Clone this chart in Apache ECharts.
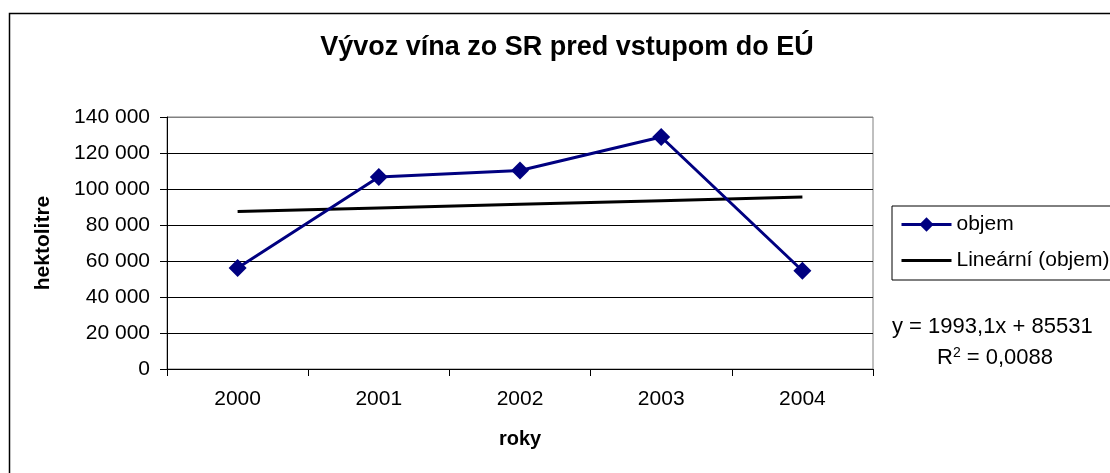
<!DOCTYPE html>
<html>
<head>
<meta charset="utf-8">
<script src="https://cdn.jsdelivr.net/npm/echarts@6/dist/echarts.min.js"></script>
<style>
  html, body { margin: 0; padding: 0; background: #fff; }
  #chart { width: 1110px; height: 473px; }
</style>
</head>
<body>
<div id="chart"></div>
<script>
// roky a objem vyvozu (hl)
const years = ["2000", "2001", "2002", "2003", "2004"];
const objem = [56100, 106700, 110300, 128900, 54600];
// linearny trend odcitany z grafu
const trend = [87500, 89500, 91500, 93500, 95500];
const yTicks = [0, 20000, 40000, 60000, 80000, 100000, 120000, 140000];

const font = "'Liberation Sans', Arial, sans-serif";

const chart = echarts.init(document.getElementById("chart"));

const option = {
  animation: false,
  backgroundColor: "#fff",
  title: {
    text: "Vývoz vína zo SR pred vstupom do EÚ",
    left: 562,
    textAlign: "center",
    top: 29,
    textStyle: { fontFamily: font, fontSize: 27, fontWeight: "bold", color: "#000" }
  },
  grid: {
    left: 167, right: 237, top: 117, bottom: 104,
    show: true, borderColor: "#808080", borderWidth: 1
  },
  legend: {
    orient: "vertical",
    left: 892,
    top: 206,
    padding: [8, 6, 9, 8],
    itemGap: 15,
    itemWidth: 50,
    itemHeight: 18,
    borderColor: "#000",
    borderWidth: 1,
    textStyle: { fontFamily: font, fontSize: 21, color: "#000" },
    data: [
      { name: "objem", lineStyle: { width: 3 } },
      { name: "Lineární (objem)", itemStyle: { opacity: 0 }, lineStyle: { width: 3 } }
    ]
  },
  xAxis: {
    type: "category",
    data: years,
    boundaryGap: true,
    name: "roky",
    nameLocation: "middle",
    nameGap: 60,
    nameTextStyle: { fontFamily: font, fontSize: 20, fontWeight: "bold", color: "#000" },
    axisLine: { lineStyle: { color: "#000", width: 1 } },
    axisTick: { show: true, length: 7, lineStyle: { color: "#000" } },
    axisLabel: { fontFamily: font, fontSize: 21, color: "#000", margin: 20 },
    splitLine: { show: false }
  },
  yAxis: {
    type: "value",
    min: yTicks[0],
    max: yTicks[yTicks.length - 1],
    interval: yTicks[1] - yTicks[0],
    name: "hektolitre",
    nameLocation: "middle",
    nameGap: 113,
    nameTextStyle: { fontFamily: font, fontSize: 21, fontWeight: "bold", color: "#000" },
    axisLine: { show: true, lineStyle: { color: "#000", width: 1 } },
    axisTick: { show: true, length: 7, lineStyle: { color: "#000" } },
    axisLabel: {
      fontFamily: font, fontSize: 21, color: "#000", margin: 17,
      formatter: (v) => String(v).replace(/\B(?=(\d{3})+(?!\d))/g, " ")
    },
    splitLine: {
      show: true,
      lineStyle: {
        color: ["#000", "#000", "#000", "#000", "#000", "#000", "#000", "#808080"],
        width: 1
      }
    }
  },
  series: [
    {
      name: "objem",
      type: "line",
      data: objem,
      symbol: "diamond",
      symbolSize: 18,
      color: "#000080",
      lineStyle: { color: "#000080", width: 3 },
      itemStyle: { color: "#000080" },
      z: 3
    },
    {
      name: "Lineární (objem)",
      type: "line",
      data: trend,
      symbol: "none",
      color: "#000",
      lineStyle: { color: "#000", width: 3 },
      z: 2
    }
  ],
  graphic: [
    {
      type: "rect",
      shape: { x: 9.5, y: 13.5, width: 1200, height: 600 },
      style: { fill: null, stroke: "#000", lineWidth: 1.5 },
      silent: true,
      z: -1
    },
    {
      type: "text",
      left: 892,
      top: 316,
      style: {
        text: "y = 1993,1x + 85531",
        font: "22px " + font,
        fill: "#000"
      }
    },
    {
      type: "text",
      left: 937,
      top: 346,
      style: {
        text: "R{sup|2} = 0,0088",
        font: "22px " + font,
        fill: "#000",
        rich: {
          sup: { fontSize: 14, fontFamily: font, verticalAlign: "top", padding: [0, 0, 10, 0] }
        }
      }
    }
  ]
};

chart.setOption(option);
</script>
</body>
</html>
